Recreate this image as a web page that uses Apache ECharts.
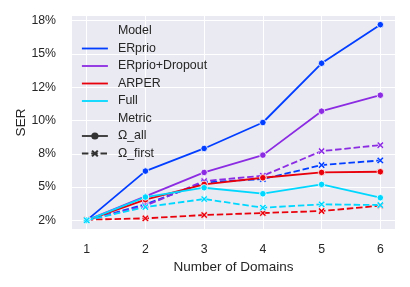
<!DOCTYPE html>
<html><head><meta charset="utf-8">
<script src="https://cdn.jsdelivr.net/npm/echarts@6/dist/echarts.min.js"></script>
<style>html,body{margin:0;padding:0;background:#fff}#c{width:410px;height:287px}</style>
</head><body><div id="c"></div>
<script>
const domains = [1, 2, 3, 4, 5, 6];
const models = ['ERprio', 'ERprio+Dropout', 'ARPER', 'Full'];
const modelColors = ['#023eff', '#8b2be2', '#e8000b', '#00d7ff'];
// Ω_all (solid, circle markers), values in %
const allERprio = [2.5, 6.2, 7.9, 9.85, 14.3, 17.2];
const allDropout = [2.5, 4.3, 6.1, 7.4, 10.7, 11.9];
const allARPER = [2.5, 4.05, 5.2, 5.7, 6.1, 6.15];
const allFull = [2.5, 4.25, 4.95, 4.5, 5.2, 4.2];
// Ω_first (dashed, x markers), values in %
const firstERprio = [2.5, 3.7, 5.35, 5.6, 6.65, 7.0];
const firstDropout = [2.5, 3.6, 5.45, 5.85, 7.7, 8.15];
const firstARPER = [2.55, 2.65, 2.9, 3.05, 3.2, 3.6];
const firstFull = [2.5, 3.5, 4.1, 3.45, 3.7, 3.65];
const yTickValues = [2.5, 5, 7.5, 10, 12.5, 15, 17.5];
const yTickLabels = ['2%', '5%', '8%', '10%', '12%', '15%', '18%'];
const xTickValues = [1, 2, 3, 4, 5, 6];

const allSets = [allERprio, allDropout, allARPER, allFull];
const firstSets = [firstERprio, firstDropout, firstARPER, firstFull];
const FONT = "'Liberation Sans', Arial, sans-serif";
const TXT = '#262626';
const XSYM = 'path://M0,2 L2,0 L5,3 L8,0 L10,2 L7,5 L10,8 L8,10 L5,7 L2,10 L0,8 L3,5 Z';
const DASH = [6.5, 2.8];

const series = [];
models.forEach((m, i) => {
  series.push({
    name: m, type: 'line', data: domains.map((d, k) => [d, allSets[i][k]]),
    color: modelColors[i], symbol: 'circle', symbolSize: 6.5, showSymbol: true,
    lineStyle: { width: 1.8, color: modelColors[i] },
    itemStyle: { color: modelColors[i], borderColor: '#fff', borderWidth: 0.8 },
    z: 3
  });
  series.push({
    name: m + ' Ω_first', type: 'line', data: domains.map((d, k) => [d, firstSets[i][k]]),
    color: modelColors[i], symbol: XSYM, symbolSize: 7,
    lineStyle: { width: 1.8, color: modelColors[i], type: DASH },
    itemStyle: { color: modelColors[i], borderColor: '#fff', borderWidth: 0.6 },
    z: 3
  });
});
// legend-only entries
series.push({ name: 'Model', type: 'line', data: [], color: '#333', symbol: 'none' });
series.push({ name: 'Metric', type: 'line', data: [], color: '#333', symbol: 'none' });
series.push({ name: 'Ω_all', type: 'line', data: [], color: '#333', symbol: 'circle',
  lineStyle: { width: 1.8, color: '#333' }, itemStyle: { color: '#333', borderWidth: 0 } });
series.push({ name: 'Ω_first', type: 'line', data: [], color: '#333', symbol: XSYM,
  lineStyle: { width: 1.8, type: DASH, color: '#333' }, itemStyle: { color: '#333', borderWidth: 0 } });

const legendData = [
  { name: 'Model', icon: 'none' },
  ...models.map(m => ({ name: m, itemStyle: { opacity: 0 } })),
  { name: 'Metric', icon: 'none' },
  { name: 'Ω_all', itemStyle: { color: '#333', borderWidth: 0 } },
  { name: 'Ω_first', itemStyle: { color: '#333', borderWidth: 0 } }
];

const chart = echarts.init(document.getElementById('c'), null, { renderer: 'canvas' });
chart.setOption({
  animation: false,
  backgroundColor: '#fff',
  textStyle: { fontFamily: FONT },
  grid: { left: 72, right: 15, top: 16, bottom: 58, show: true, backgroundColor: '#eaeaf2', borderWidth: 0, containLabel: false },
  legend: {
    orient: 'vertical', left: 81, top: 24, padding: 0,
    itemWidth: 26, itemHeight: 9, itemGap: 3.5,
    data: legendData,
    selectedMode: false,
    textStyle: { color: TXT, fontSize: 12.4, fontFamily: FONT, lineHeight: 14, padding: [0, 0, 0, 5] },
    lineStyle: { width: 1.8 }
  },
  xAxis: {
    type: 'value', min: 0.75, max: 6.25,
    name: 'Number of Domains', nameLocation: 'middle', nameGap: 31, nameMoveOverlap: false,
    nameTextStyle: { color: TXT, fontSize: 13.5, fontFamily: FONT },
    axisLine: { show: false },
    axisTick: { show: false, customValues: xTickValues },
    axisLabel: { customValues: xTickValues, color: TXT, fontSize: 12.3, fontFamily: FONT, margin: 15 },
    splitLine: { show: true, lineStyle: { color: '#fff', width: 1 } }
  },
  yAxis: {
    type: 'value', min: 1.85, max: 17.85,
    name: 'SER', nameLocation: 'middle', nameGap: 44, nameMoveOverlap: false,
    nameTextStyle: { color: TXT, fontSize: 13.5, fontFamily: FONT },
    axisLine: { show: false },
    axisTick: { show: false, customValues: yTickValues },
    axisLabel: {
      customValues: yTickValues, color: TXT, fontSize: 12.3, fontFamily: FONT, margin: 16,
      padding: [3, 0, 0, 0],
      formatter: v => { const i = yTickValues.indexOf(v); return i >= 0 ? yTickLabels[i] : ''; }
    },
    splitLine: { show: true, lineStyle: { color: '#fff', width: 1 } }
  },
  series: series
});
</script></body></html>
